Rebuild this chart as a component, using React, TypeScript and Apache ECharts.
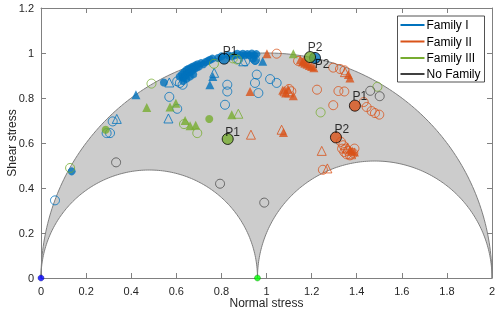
import React, { useEffect, useRef } from 'react';
import * as echarts from 'echarts';

// principal stresses (sigma3, sigma2, sigma1)
const principalStresses = [0, 0.96, 2];

const COLORS = { I: '#0072BD', II: '#D95319', III: '#77AC30', none: '#4D4D4D' };
const legendNames = ['Family I', 'Family II', 'Family III', 'No Family'];
const legendColors = ['#0072BD', '#D95319', '#77AC30', '#404040'];

// Family I
const famI_dot = [
  [0.136, 0.474], [0.545, 0.869],
  [0.615, 0.895], [0.625, 0.905], [0.63, 0.89], [0.635, 0.915], [0.64, 0.9], [0.645, 0.925],
  [0.65, 0.91], [0.655, 0.93], [0.66, 0.915], [0.665, 0.935], [0.67, 0.92], [0.675, 0.94],
  [0.68, 0.93], [0.685, 0.945], [0.69, 0.935], [0.695, 0.95], [0.7, 0.94], [0.71, 0.955],
  [0.72, 0.95], [0.73, 0.96], [0.74, 0.965], [0.75, 0.97], [0.76, 0.975], [0.63, 0.875],
  [0.645, 0.885], [0.66, 0.895], [0.675, 0.905],
  [0.785, 0.978], [0.8, 0.985], [0.83, 0.99], [0.845, 0.985], [0.86, 0.99], [0.87, 0.997],
  [0.885, 0.99], [0.895, 0.997], [0.905, 0.99], [0.915, 0.995], [0.925, 0.99], [0.935, 0.998],
  [0.945, 0.99], [0.955, 0.995], [0.94, 0.975], [0.95, 0.965]
];
const famI_triFilled = [[0.421, 0.815], [0.749, 0.859], [0.762, 0.896], [0.983, 0.963]];
const famI_open = [
  [0.062, 0.345], [0.291, 0.644], [0.306, 0.644], [0.318, 0.696], [0.569, 0.805], [0.604, 0.752],
  [0.604, 0.874], [0.616, 0.867], [0.628, 0.859], [0.826, 0.859], [0.826, 0.829], [0.816, 0.77],
  [0.875, 0.973], [0.905, 0.963], [0.949, 0.97], [0.957, 0.904], [0.949, 0.867], [1.016, 0.884],
  [1.045, 0.867], [0.964, 0.822]
];
const famI_triOpen = [[0.336, 0.707], [0.569, 0.869], [0.565, 0.709], [0.768, 0.912], [0.897, 0.963]];
const famI_P = [[0.812, 0.975], [1.215, 0.978]];

// Family II
const famII_triFilled = [
  [1.002, 0.997], [0.927, 0.829], [1.072, 0.835], [1.085, 0.822], [1.119, 0.81], [1.095, 0.84],
  [1.075, 0.647], [1.15, 0.97], [1.16, 0.96], [1.17, 0.955], [1.18, 0.95], [1.19, 0.945],
  [1.2, 0.94], [1.21, 0.935], [1.165, 0.965], [1.363, 0.904], [1.37, 0.889], [1.37, 0.57],
  [1.38, 0.565], [1.39, 0.56]
];
const famII_triOpen = [
  [0.931, 0.637], [1.067, 0.659], [1.08, 0.83], [1.1, 0.825], [1.348, 0.915], [1.245, 0.565],
  [1.27, 0.487], [1.36, 0.58], [1.375, 0.55]
];
const famII_open = [
  [1.045, 0.997], [1.14, 0.965], [1.296, 0.935], [1.326, 0.929], [1.346, 0.923], [1.224, 0.837],
  [1.319, 0.831], [1.345, 0.829], [1.296, 0.768], [1.431, 0.782], [1.444, 0.76], [1.466, 0.742],
  [1.481, 0.733], [1.5, 0.726], [1.25, 0.481], [1.33, 0.605], [1.34, 0.59], [1.35, 0.575],
  [1.36, 0.565], [1.335, 0.575], [1.345, 0.56], [1.355, 0.55], [1.37, 0.545], [1.385, 0.555],
  [1.39, 0.575], [1.1, 0.84], [1.11, 0.83]
];
const famII_P = [[1.392, 0.766], [1.308, 0.625]];

// Family III
const famIII_dot = [[0.287, 0.659], [0.746, 0.707]];
const famIII_triFilled = [
  [0.469, 0.758], [0.572, 0.76], [0.598, 0.777], [0.639, 0.7], [0.661, 0.677], [0.686, 0.679],
  [0.846, 0.726], [1.119, 0.997]
];
const famIII_open = [
  [0.129, 0.489], [0.49, 0.864], [0.767, 0.952], [0.851, 0.976], [0.869, 0.971], [0.634, 0.684],
  [0.693, 0.644], [1.24, 0.736], [1.492, 0.85]
];
const famIII_triOpen = [[0.875, 0.73]];
const famIII_P = [[0.828, 0.618], [1.193, 0.982]];

// No family
const noFam_open = [[0.333, 0.514], [0.794, 0.419], [0.99, 0.335], [1.46, 0.832], [1.502, 0.808]];

const pLabels = ['P1', 'P2'];

const FONT = '"Liberation Sans", Arial, Helvetica, sans-serif';

function arc(c: number, r: number, from: number, to: number, n = 180) {
  const pts: number[][] = [];
  for (let i = 0; i <= n; i++) {
    const t = from + ((to - from) * i) / n;
    pts.push([c + r * Math.cos(t), r * Math.sin(t)]);
  }
  return pts;
}

function scatter(data: number[][], color: string, symbol: string, filled: boolean, size: number) {
  return {
    type: 'scatter',
    data,
    symbol,
    symbolSize: size,
    silent: true,
    itemStyle: filled
      ? { color, borderColor: color, borderWidth: 0 }
      : { color: 'rgba(0,0,0,0)', borderColor: color, borderWidth: 1 },
  };
}

function pSeries(data: number[][], color: string, offsets: number[][]) {
  return {
    type: 'scatter',
    data: data.map((d, i) => ({
      value: d,
      label: {
        show: true,
        formatter: pLabels[i],
        position: 'inside',
        offset: offsets[i],
        color: '#000',
        fontSize: 12,
        fontFamily: FONT,
      },
    })),
    symbol: 'circle',
    symbolSize: 11,
    silent: true,
    itemStyle: { color, borderColor: '#000', borderWidth: 1 },
  };
}

export default function App() {
  const ref = useRef<HTMLDivElement>(null);
  useEffect(() => {
    const chart = echarts.init(ref.current!, null, { renderer: 'svg' });
    const [s3, s2, s1] = principalStresses;
    const cBig = (s1 + s3) / 2, rBig = (s1 - s3) / 2;
    const cL = (s2 + s3) / 2, rL = (s2 - s3) / 2;
    const cR = (s1 + s2) / 2, rR = (s1 - s2) / 2;
    const arcColor = '#7f7f7f';
    const axisColor = '#808080';
    const baseAxis = {
      type: 'value',
      min: 0,
      interval: 0.2,
      splitLine: { show: false },
      axisLine: { show: true, onZero: false, lineStyle: { color: axisColor, width: 1 } },
      axisTick: { show: true, inside: true, length: 5, lineStyle: { color: axisColor } },
      z: 10,
    };
    const legendRows = [25, 41.5, 58, 74];
    const option = {
      animation: false,
      grid: { left: 41, right: 8, top: 8, bottom: 40, containLabel: false, outerBoundsMode: 'none' },
      xAxis: [
        {
          ...baseAxis,
          max: 2,
          position: 'bottom',
          name: 'Normal stress',
          nameLocation: 'middle',
          nameGap: 19,
          nameMoveOverlap: false,
          nameTextStyle: { color: '#262626', fontSize: 12, fontFamily: FONT },
          axisLabel: { color: '#262626', fontSize: 11, fontFamily: FONT, margin: 7 },
        },
        { ...baseAxis, max: 2, position: 'top', axisLabel: { show: false } },
      ],
      yAxis: [
        {
          ...baseAxis,
          max: 1.2,
          position: 'left',
          name: 'Shear stress',
          nameLocation: 'middle',
          nameGap: 23,
          nameMoveOverlap: false,
          nameTextStyle: { color: '#262626', fontSize: 12, fontFamily: FONT },
          axisLabel: { color: '#262626', fontSize: 11, fontFamily: FONT, margin: 7 },
        },
        { ...baseAxis, max: 1.2, position: 'right', axisLabel: { show: false } },
      ],
      series: [
        {
          type: 'custom',
          silent: true,
          data: [[0, 0]],
          renderItem: (_p: any, api: any) => {
            const pts = [
              ...arc(cBig, rBig, Math.PI, 0),
              ...arc(cR, rR, 0, Math.PI),
              ...arc(cL, rL, 0, Math.PI),
            ].map((p) => api.coord(p));
            return { type: 'polygon', shape: { points: pts }, style: { fill: '#cccccc' } };
          },
          z: 1,
        },
        ...[arc(cBig, rBig, Math.PI, 0), arc(cL, rL, Math.PI, 0), arc(cR, rR, Math.PI, 0)].map((d) => ({
          type: 'line',
          data: d,
          showSymbol: false,
          silent: true,
          lineStyle: { color: arcColor, width: 1 },
          z: 2,
        })),
        scatter(famI_dot, COLORS.I, 'circle', true, 8),
        scatter(famI_triFilled, COLORS.I, 'triangle', true, 9),
        scatter(famI_open, COLORS.I, 'circle', false, 9),
        scatter(famI_triOpen, COLORS.I, 'triangle', false, 9),
        scatter(famII_triFilled, COLORS.II, 'triangle', true, 9),
        scatter(famII_triOpen, COLORS.II, 'triangle', false, 9),
        scatter(famII_open, COLORS.II, 'circle', false, 9),
        scatter(famIII_dot, COLORS.III, 'circle', true, 8),
        scatter(famIII_triFilled, COLORS.III, 'triangle', true, 9),
        scatter(famIII_open, COLORS.III, 'circle', false, 9),
        scatter(famIII_triOpen, COLORS.III, 'triangle', false, 9),
        scatter(noFam_open, COLORS.none, 'circle', false, 9),
        pSeries(famI_P, COLORS.I, [[6, -8], [7, 6]]),
        pSeries(famII_P, COLORS.II, [[5, -10], [6, -8]]),
        pSeries(famIII_P, COLORS.III, [[5, -7], [5, -10]]),
        {
          type: 'scatter',
          silent: true,
          symbolSize: 6,
          data: [[s3, 0]],
          itemStyle: { color: '#0000FF', borderColor: '#000080', borderWidth: 0.5 },
          z: 12,
        },
        {
          type: 'scatter',
          silent: true,
          symbolSize: 6,
          data: [[s2, 0]],
          itemStyle: { color: '#00FF00', borderColor: '#008000', borderWidth: 0.5 },
          z: 12,
        },
      ],
      graphic: [
        {
          type: 'rect',
          shape: { x: 397.5, y: 16, width: 87, height: 66 },
          style: { fill: '#ffffff', stroke: '#262626', lineWidth: 0.8 },
          z: 100,
        },
        ...legendNames.flatMap((name, i) => [
          {
            type: 'line',
            shape: { x1: 400.5, y1: legendRows[i], x2: 424.5, y2: legendRows[i] },
            style: { stroke: legendColors[i], lineWidth: 2 },
            z: 101,
          },
          {
            type: 'text',
            x: 426.5,
            y: legendRows[i],
            style: {
              text: name,
              fill: '#000',
              fontSize: 12,
              fontFamily: FONT,
              verticalAlign: 'middle',
              align: 'left',
            },
            z: 101,
          },
        ]),
      ],
    };
    chart.setOption(option as any);
    return () => chart.dispose();
  }, []);
  return <div ref={ref} style={{ position: 'fixed', left: 0, top: 0, width: 500, height: 318 }} />;
}
